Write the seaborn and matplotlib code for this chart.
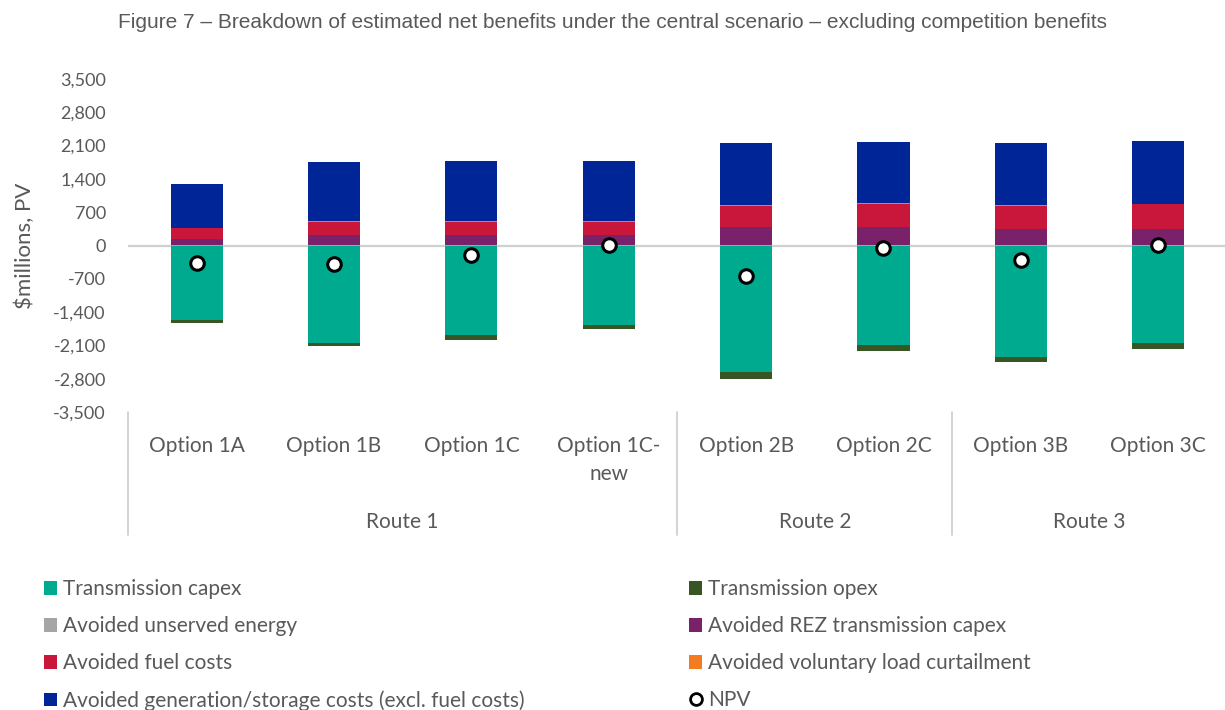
import numpy as np
import pandas as pd
import matplotlib
matplotlib.use("Agg")
import matplotlib.pyplot as plt
import matplotlib.transforms as mtransforms
from matplotlib.patches import Patch
from matplotlib.lines import Line2D
import seaborn as sns

# Data ($ millions, PV)
options = ["Option 1A", "Option 1B", "Option 1C", "Option 1C-\nnew",
           "Option 2B", "Option 2C", "Option 3B", "Option 3C"]
routes = ["Route 1", "Route 2", "Route 3"]
route_sizes = [4, 2, 2]

transmission_capex = [-1572, -2040, -1886, -1670, -2669, -2096, -2347, -2047]
transmission_opex = [-56, -77, -91, -90, -139, -126, -112, -119]
unserved_energy = [2, 2, 2, 2, 2, 2, 2, 2]
rez_capex = [132, 210, 210, 210, 377, 377, 349, 349]
fuel_costs = [227, 281, 281, 281, 456, 498, 484, 519]
voluntary_curtailment = [12, 12, 12, 12, 12, 12, 12, 12]
generation_storage = [922, 1243, 1272, 1272, 1307, 1286, 1307, 1321]
npv = [-363, -384, -196, 15, -643, -49, -307, 21]

series_names = ["Transmission capex", "Transmission opex", "Avoided unserved energy",
                "Avoided REZ transmission capex", "Avoided fuel costs",
                "Avoided voluntary load curtailment",
                "Avoided generation/storage costs (excl. fuel costs)"]
colors = ["#00AA8E", "#375623", "#A5A5A5", "#7A2269", "#C8173A", "#F47C20", "#002597"]

df = pd.DataFrame({"option": options,
                   "Transmission capex": transmission_capex,
                   "Transmission opex": transmission_opex,
                   "Avoided unserved energy": unserved_energy,
                   "Avoided REZ transmission capex": rez_capex,
                   "Avoided fuel costs": fuel_costs,
                   "Avoided voluntary load curtailment": voluntary_curtailment,
                   "Avoided generation/storage costs (excl. fuel costs)": generation_storage,
                   "NPV": npv})

sns.set_theme(style="white")
plt.rcParams["font.family"] = ["Lato", "DejaVu Sans"]
text_col = "#595959"

fig = plt.figure(figsize=(12.25, 7.1), dpi=100)
ax = fig.add_axes([0.1045, 0.4197, 0.897, 0.469])

# stacked bars: positives stack upward, negatives downward
pos_base = np.zeros(len(options))
neg_base = np.zeros(len(options))
for name, col in zip(series_names, colors):
    vals = df[name].to_numpy(dtype=float)
    bottoms = np.where(vals >= 0, pos_base, neg_base)
    sns.barplot(data=df, x="option", y=name, color=col, width=0.38,
                bottom=bottoms, errorbar=None, linewidth=0, saturation=1, ax=ax)
    pos_base = pos_base + np.clip(vals, 0, None)
    neg_base = neg_base + np.clip(vals, None, 0)

sns.scatterplot(data=df, x="option", y="NPV", s=95, color="white",
                edgecolor="black", linewidth=2.2, zorder=5, ax=ax)

ax.set_xlim(-0.5, len(options) - 0.5)
ax.set_ylim(-3500, 3500)
ax.set_yticks(np.arange(-3500, 3501, 700))
ax.set_yticklabels([f"{int(v):,}" for v in np.arange(-3500, 3501, 700)],
                   fontsize=13, color=text_col)
ax.tick_params(axis="y", length=0, pad=16)
ax.axhline(0, color="#D0D0D0", linewidth=1.6, zorder=0)
for s in ax.spines.values():
    s.set_visible(False)
ax.set_xlabel("")
ax.set_ylabel("$millions, PV", fontsize=16, color=text_col, labelpad=4)
ax.yaxis.set_label_coords(-0.085, 0.5)

ax.set_xticks(range(len(options)))
ax.set_xticklabels(options, fontsize=15, color=text_col, linespacing=1.5)
ax.tick_params(axis="x", length=0, pad=17)

# route grouping lines and labels below the plot
trans = mtransforms.blended_transform_factory(ax.transData, ax.transAxes)
edges = np.concatenate([[0], np.cumsum(route_sizes)]) - 0.5
for e in edges[:-1]:
    ax.plot([e, e], [0, -0.368], color="#D0D0D0", linewidth=1.3,
            transform=trans, clip_on=False)
for i, r in enumerate(routes):
    mid = (edges[i] + edges[i + 1]) / 2
    ax.text(mid, -0.33, r, transform=trans, ha="center", va="center",
            fontsize=15, color=text_col)

fig.text(0.5, 0.968, "Figure 7 \u2013 Breakdown of estimated net benefits under the central "
         "scenario \u2013 excluding competition benefits",
         ha="center", va="center", fontsize=15, color=text_col,
         family=["Liberation Sans", "DejaVu Sans"])

# legend
handles = []
for name, col in zip(series_names, colors):
    handles.append(Patch(facecolor=col, edgecolor="none", label=name))
handles.append(Line2D([], [], marker="o", linestyle="none", markerfacecolor="white",
                      markeredgecolor="black", markeredgewidth=2, markersize=8.5,
                      label="NPV"))
order = [0, 2, 4, 6, 1, 3, 5, 7]
leg = fig.legend([handles[i] for i in order], [handles[i].get_label() for i in order],
                 ncol=2, loc="upper left", bbox_to_anchor=(0.029, 0.196),
                 frameon=False, fontsize=15, handlelength=0.62, handleheight=0.62,
                 handletextpad=0.3, columnspacing=7.9, labelspacing=0.82,
                 borderaxespad=0)
for t in leg.get_texts():
    t.set_color(text_col)

fig.savefig("out.png", dpi=100)
